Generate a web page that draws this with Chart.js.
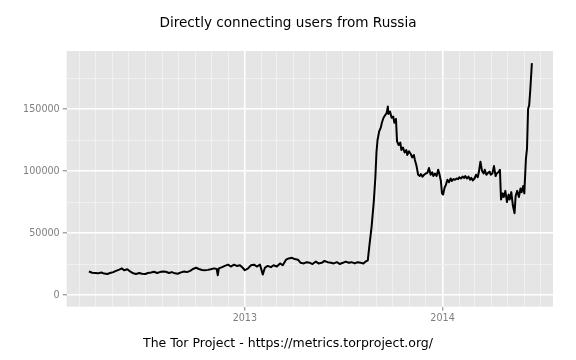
<!DOCTYPE html>
<html><head><meta charset="utf-8">
<script src="https://cdn.jsdelivr.net/npm/chart.js@4/dist/chart.umd.min.js"></script>
<style>html,body{margin:0;padding:0;background:#fff}#wrap{width:576px;height:360px}</style>
</head><body><div id="wrap"><canvas id="c" width="576" height="360" style="width:576px;height:360px"></canvas></div>
<script>
const titleText = 'Directly connecting users from Russia';
const captionText = 'The Tor Project - https://metrics.torproject.org/';

const dates = [
'2012-03-19','2012-03-25','2012-03-31','2012-04-05','2012-04-11','2012-04-16','2012-04-22','2012-04-27',
'2012-05-03','2012-05-08','2012-05-14','2012-05-19','2012-05-23','2012-05-29','2012-06-03','2012-06-09',
'2012-06-14','2012-06-20','2012-06-25','2012-07-01','2012-07-06','2012-07-12','2012-07-17','2012-07-23',
'2012-07-28','2012-08-03','2012-08-08','2012-08-14','2012-08-19','2012-08-25','2012-08-30','2012-09-05',
'2012-09-11','2012-09-16','2012-09-22','2012-09-27','2012-10-03','2012-10-08','2012-10-14','2012-10-19',
'2012-10-25','2012-10-30','2012-11-05','2012-11-10','2012-11-12','2012-11-14','2012-11-20','2012-11-25',
'2012-12-01','2012-12-06','2012-12-12','2012-12-17','2012-12-23','2012-12-28','2013-01-01','2013-01-07',
'2013-01-12','2013-01-18','2013-01-23','2013-01-29','2013-02-03','2013-02-07','2013-02-12','2013-02-18',
'2013-02-23','2013-03-01','2013-03-07','2013-03-12','2013-03-18','2013-03-23','2013-03-29','2013-04-03',
'2013-04-09','2013-04-14','2013-04-20','2013-04-25','2013-05-01','2013-05-06','2013-05-12','2013-05-17',
'2013-05-23','2013-05-28','2013-06-03','2013-06-09','2013-06-14','2013-06-20','2013-06-25','2013-07-01',
'2013-07-06','2013-07-12','2013-07-17','2013-07-23','2013-07-28','2013-08-03','2013-08-08','2013-08-12',
'2013-08-16','2013-08-19','2013-08-23','2013-08-27','2013-08-30','2013-09-01','2013-09-03','2013-09-06',
'2013-09-09','2013-09-11','2013-09-14','2013-09-17','2013-09-20','2013-09-22','2013-09-23','2013-09-26',
'2013-09-29','2013-10-02','2013-10-04','2013-10-07','2013-10-09','2013-10-12','2013-10-15','2013-10-17',
'2013-10-20','2013-10-23','2013-10-26','2013-10-28','2013-10-31','2013-11-03','2013-11-06','2013-11-09',
'2013-11-11','2013-11-14','2013-11-17','2013-11-20','2013-11-22','2013-11-25','2013-11-28','2013-12-01',
'2013-12-04','2013-12-07','2013-12-10','2013-12-13','2013-12-15','2013-12-18','2013-12-21','2013-12-24',
'2013-12-26','2013-12-29','2013-12-31','2014-01-02','2014-01-05','2014-01-07','2014-01-10','2014-01-13',
'2014-01-16','2014-01-18','2014-01-21','2014-01-24','2014-01-27','2014-01-30','2014-02-01','2014-02-04',
'2014-02-07','2014-02-10','2014-02-12','2014-02-15','2014-02-18','2014-02-21','2014-02-23','2014-02-26',
'2014-03-01','2014-03-04','2014-03-07','2014-03-09','2014-03-12','2014-03-15','2014-03-18','2014-03-20',
'2014-03-23','2014-03-26','2014-03-29','2014-03-31','2014-04-03','2014-04-06','2014-04-09','2014-04-11',
'2014-04-14','2014-04-17','2014-04-19','2014-04-22','2014-04-24','2014-04-27','2014-04-30','2014-05-03',
'2014-05-05','2014-05-08','2014-05-11','2014-05-14','2014-05-16','2014-05-19','2014-05-22','2014-05-25',
'2014-05-27','2014-05-30','2014-06-01','2014-06-04','2014-06-06','2014-06-08','2014-06-10','2014-06-12',
'2014-06-15'
];
const users = [
19000,18000,17800,17500,18200,17300,17000,17800,
18500,19500,20500,21500,20000,20800,19000,17500,
17000,17800,17200,17000,17800,18200,18800,17800,
18500,19000,18800,17800,18500,17500,17200,18300,
19000,18500,19500,21000,22000,21000,20200,20000,
20300,20800,21500,21000,16000,21500,22500,23500,
24500,23000,24500,23500,24000,22000,20000,21500,
24000,24500,23000,24500,16500,22000,23500,22500,
24000,23000,25500,24000,28500,29500,30000,29000,
28500,26000,25500,26500,26000,25000,27000,25500,
26000,27500,26500,26000,25500,26500,25000,26000,
27000,26000,26500,25500,26500,26000,25500,27000,
28000,40000,55000,75000,95000,115000,125000,132000,
135000,139000,143000,145000,147000,152000,146000,148000,
143000,144000,139000,142000,124000,121000,123000,117000,
119000,115000,117000,113000,116000,114000,111000,113000,
109000,104000,97000,96000,97500,95500,97000,98000,
98500,102500,97000,99000,96000,98000,96000,101000,
98000,92000,82000,81000,87000,88500,93000,91000,
94000,92000,93500,93000,94000,93500,95000,94000,
95500,94500,96000,94000,95500,93000,94500,92500,
94000,97000,95000,99000,107500,100000,98000,101000,
97000,98500,99500,97000,98000,104000,96000,98000,
99000,101000,77000,82000,79000,84000,75000,81000,
77000,83000,72000,66000,80000,84000,79000,86000,
83000,88000,82000,110000,118000,150000,153000,165000,
187000
];

const yGridValues = [0, 25000, 50000, 75000, 100000, 125000, 150000, 175000];
const yLabelStep = 50000;
const yLimits = [-9400, 196800];
const xLimits = ['2012-02-07', '2014-07-24'];
const gridMonthsFrom = [2012, 2]; // March 2012 (0-based month)
const gridMonthsTo = [2014, 6];   // July 2014

const monthTicks = [];
for (let y = gridMonthsFrom[0], m = gridMonthsFrom[1]; y < gridMonthsTo[0] || (y === gridMonthsTo[0] && m <= gridMonthsTo[1]); ) {
  monthTicks.push(Date.UTC(y, m, 1));
  m++; if (m > 11) { m = 0; y++; }
}
const isJan = v => new Date(v).getUTCMonth() === 0;

const panelBg = {
  id: 'panelBg',
  beforeDraw(chart) {
    const a = chart.chartArea, c = chart.ctx;
    c.save(); c.fillStyle = '#E5E5E5';
    c.fillRect(a.left, a.top, a.right - a.left, a.bottom - a.top);
    c.restore();
  }
};

const tickFont = { family: 'DejaVu Sans', size: 9.6 };

new Chart(document.getElementById('c'), {
  type: 'line',
  data: {
    datasets: [{
      data: dates.map((d, i) => ({ x: Date.parse(d), y: users[i] })),
      borderColor: '#000000',
      borderWidth: 2,
      pointRadius: 0,
      tension: 0,
      fill: false,
      borderJoinStyle: 'round'
    }]
  },
  options: {
    responsive: false,
    animation: false,
    devicePixelRatio: 1,
    layout: { padding: 0 },
    plugins: {
      legend: { display: false },
      tooltip: { enabled: false },
      title: {
        display: true, text: titleText, color: '#000000',
        font: { family: 'DejaVu Sans', size: 13.6, weight: 'normal', lineHeight: 1.2 },
        padding: { top: 15.8, bottom: 18.9 }
      },
      subtitle: {
        display: true, position: 'bottom', text: captionText, color: '#000000',
        font: { family: 'DejaVu Sans', size: 12.5, weight: 'normal', lineHeight: 1.2 },
        padding: { top: 0, bottom: 9 }
      }
    },
    scales: {
      x: {
        type: 'linear',
        min: Date.parse(xLimits[0]),
        max: Date.parse(xLimits[1]),
        afterBuildTicks: s => { s.ticks = monthTicks.map(v => ({ value: v })); },
        afterFit: s => { s.height = 29.3; },
        border: { display: false },
        grid: {
          color: c => isJan(c.tick.value) ? '#FFFFFF' : '#F2F2F2',
          lineWidth: c => isJan(c.tick.value) ? 1.6 : 0.8,
          tickLength: 4,
          tickWidth: 1,
          tickColor: c => isJan(c.tick.value) ? '#7F7F7F' : 'rgba(0,0,0,0)'
        },
        ticks: {
          autoSkip: false, maxRotation: 0, minRotation: 0,
          color: '#7F7F7F', font: tickFont, padding: 2,
          callback: v => isJan(v) ? String(new Date(v).getUTCFullYear()) : ''
        }
      },
      y: {
        type: 'linear',
        min: yLimits[0], max: yLimits[1],
        afterBuildTicks: s => { s.ticks = yGridValues.map(v => ({ value: v })); },
        afterFit: s => { s.width = 66.7; },
        border: { display: false },
        grid: {
          color: c => (c.tick.value % yLabelStep === 0) ? '#FFFFFF' : '#F2F2F2',
          lineWidth: c => (c.tick.value % yLabelStep === 0) ? 1.6 : 0.8,
          tickLength: 4,
          tickWidth: 1,
          tickColor: c => (c.tick.value % yLabelStep === 0) ? '#7F7F7F' : 'rgba(0,0,0,0)'
        },
        ticks: {
          color: '#7F7F7F', font: tickFont, padding: 3,
          callback: v => (v % yLabelStep === 0) ? String(v) : ''
        }
      },
      yr: {
        type: 'linear', position: 'right', display: true,
        min: yLimits[0], max: yLimits[1],
        afterFit: s => { s.width = 23; },
        border: { display: false },
        grid: { display: false, drawOnChartArea: false },
        ticks: { display: false }
      }
    }
  },
  plugins: [panelBg]
});
</script>
</body></html>
